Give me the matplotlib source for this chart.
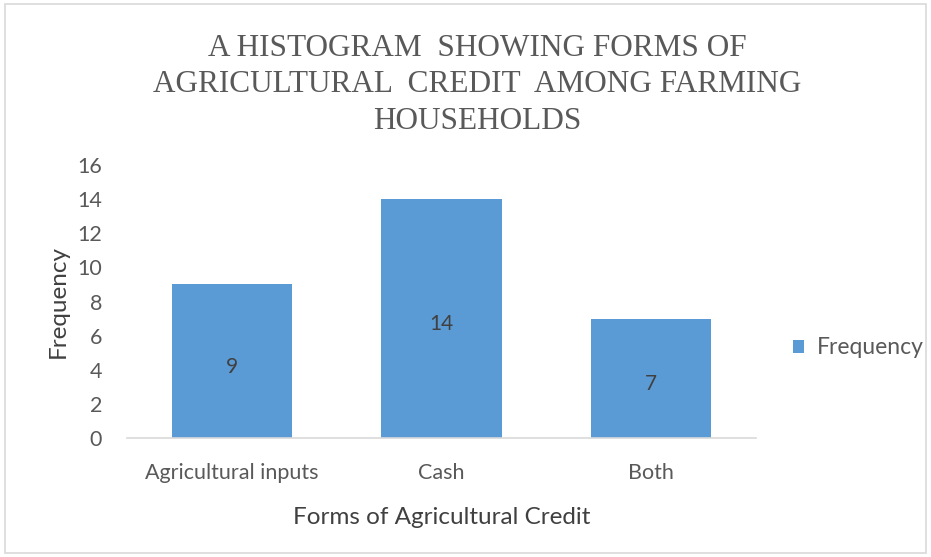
import matplotlib.pyplot as plt
from matplotlib.patches import Rectangle

# data
categories = ['Agricultural inputs', 'Cash', 'Both']
frequency = [9, 14, 7]
y_ticks = [0, 2, 4, 6, 8, 10, 12, 14, 16]

bar_color = '#5B9BD5'
text_gray = '#595959'
sans = ['Lato', 'DejaVu Sans']

fig = plt.figure(figsize=(9.31, 5.57), dpi=100)
ax = fig.add_axes([127 / 931, 119 / 557, 629 / 931, 273 / 557])

bars = ax.bar(range(len(categories)), frequency, width=0.573,
              color=bar_color, label='Frequency', zorder=2)

# value labels sit in the middle of each bar (a touch low, like excel)
for b, v in zip(bars, frequency):
    ax.annotate(str(v), (b.get_x() + b.get_width() / 2, v / 2), xytext=(0, -4),
                textcoords='offset points', ha='center', va='center',
                fontsize=15, color='#404040', family=sans)

ax.set_xlim(-0.5, len(categories) - 0.5)
ax.set_ylim(0, 16)
ax.set_yticks(y_ticks)
ax.set_xticks(range(len(categories)))
ax.set_xticklabels(categories)

for s in ['top', 'right', 'left']:
    ax.spines[s].set_visible(False)
ax.spines['bottom'].set_color('#D9D9D9')
ax.spines['bottom'].set_linewidth(1.2)
ax.tick_params(axis='both', length=0, labelsize=15.5, labelcolor=text_gray)
ax.tick_params(axis='y', pad=18)
ax.tick_params(axis='x', pad=18)
for lbl in ax.get_xticklabels() + ax.get_yticklabels():
    lbl.set_family(sans)

ax.set_xlabel('Forms of Agricultural Credit', fontsize=17.5, color='#404040',
              family=sans, labelpad=17)
ax.set_ylabel('Frequency', fontsize=17.5, color='#404040', family=sans, labelpad=6)

leg = ax.legend(loc='center left', bbox_to_anchor=(1.026, 0.33), frameon=False,
                prop={'family': sans, 'size': 16.5}, handlelength=0.5, handleheight=0.5,
                handletextpad=0.55)
for t in leg.get_texts():
    t.set_color(text_gray)

fig.text(477 / 931, 1 - 85 / 557,
         'A HISTOGRAM  SHOWING FORMS OF\nAGRICULTURAL  CREDIT  AMONG FARMING\nHOUSEHOLDS',
         ha='center', va='center', fontsize=22.5, color=text_gray,
         family='Liberation Serif', linespacing=1.35)

# light frame round the whole chart
fig.patches.append(Rectangle((5 / 931, 4 / 557), 921 / 931, 549 / 557,
                             transform=fig.transFigure, fill=False,
                             edgecolor='#D9D9D9', linewidth=1.2))

fig.savefig('out.png', dpi=100)
